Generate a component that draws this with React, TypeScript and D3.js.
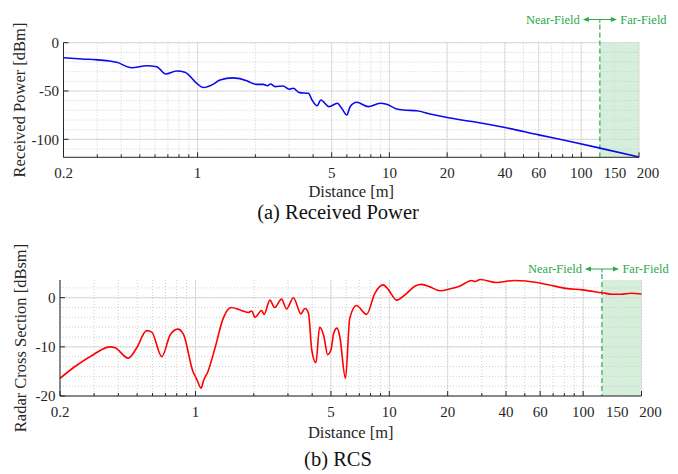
import React, { useEffect, useRef } from 'react';
import * as d3 from 'd3';

// received power vs distance
const powerDist = [0.2, 0.25, 0.3, 0.349, 0.379, 0.453, 0.543, 0.612, 0.682, 0.778, 0.859, 0.989, 1.071, 1.204, 1.308, 1.53, 1.803, 1.876, 2.03, 2.2, 2.31, 2.4, 2.54, 2.79, 3.0, 3.15, 3.4, 3.78, 3.95, 4.2, 4.39, 4.84, 5.35, 5.64, 6.0, 6.24, 6.76, 7.76, 8.94, 9.67, 10.9, 11.8, 13.9, 16.3, 20.0, 27.0, 40.0, 60.0, 90.0, 122, 200];
const powerDbm = [-15.5, -16.8, -17.8, -18.9, -20.3, -25.9, -23.8, -24.8, -32.4, -29.3, -30.6, -42, -46.4, -43.1, -38.6, -36.4, -39.3, -41, -43.1, -43.1, -44.5, -42.8, -45.5, -44.8, -48.2, -47.2, -51.7, -52.4, -59.3, -65.2, -59.3, -66.2, -62.7, -67.9, -74.8, -66.2, -61.7, -66.2, -62.7, -63.8, -68.6, -69.7, -70.4, -73.8, -77.5, -81.6, -87.8, -95.4, -102.8, -108.6, -118.3];

// radar cross section vs distance
const rcsDist = [0.2, 0.239, 0.297, 0.362, 0.385, 0.45, 0.496, 0.56, 0.595, 0.67, 0.74, 0.81, 0.866, 0.97, 1.01, 1.07, 1.10, 1.16, 1.26, 1.39, 1.53, 1.70, 1.87, 1.95, 2.03, 2.19, 2.26, 2.42, 2.56, 2.78, 2.95, 3.2, 3.5, 3.67, 3.83, 3.98, 4.18, 4.37, 4.58, 4.81, 5.0, 5.17, 5.38, 5.55, 5.94, 6.25, 6.77, 7.63, 8.42, 9.3, 9.9, 10.9, 12.3, 13.6, 14.7, 16.2, 18.3, 20.6, 23.2, 26.6, 27.6, 29.5, 35.6, 44.2, 50.6, 66.8, 81.4, 98.9, 125.6, 142, 157, 177, 200];
const rcsDbsm = [-16.4, -14, -11.6, -10, -10.2, -12.3, -10.3, -6.7, -7, -12, -7.6, -6.4, -7.4, -15, -16.4, -18.4, -16.9, -15, -10.3, -4.2, -2, -2.5, -3, -2.7, -4, -2.6, -3.4, -0.5, -2, -0.3, -2.3, 0, -3.3, -2.2, -3.2, -10.6, -13.2, -6, -7.6, -11.6, -10.6, -7.2, -6.2, -7.9, -16.4, -4.2, -1.6, -3.4, 0.9, 2.6, 1.6, -0.5, 0.9, 2.4, 2.7, 2.2, 1.4, 1.8, 2.4, 3.5, 3.3, 3.7, 3.1, 3.5, 3.4, 2.6, 1.9, 1.6, 1.0, 0.7, 0.7, 0.9, 0.75];

const distTicks = [0.2, 1, 5, 10, 20, 40, 60, 100, 150, 200];
const powerTicks = [0, -50, -100];
const rcsTicks = [0, -10, -20];
const fieldBoundary = 125;

const FONT = '"Liberation Serif", "Times New Roman", serif';
const GREEN = '#2aa84a';

function drawPanel(svg, o) {
  const x = d3.scaleLog().domain([0.2, 200]).range([o.left, o.right]);
  const y = d3.scaleLinear().domain(o.yDomain).range([o.bottom, o.top]);
  const g = svg.append('g');
  const xb = x(fieldBoundary);

  // far-field shading
  g.append('rect')
    .attr('x', xb).attr('y', o.top)
    .attr('width', o.right - xb).attr('height', o.bottom - o.top)
    .attr('fill', '#d5efda');

  const minorX = x.ticks();
  const minorY = d3.range(Math.ceil(o.yDomain[0] / o.minorStep) * o.minorStep, o.yDomain[1] + 1e-6, o.minorStep);

  // major grid
  g.selectAll('.gxM').data(distTicks).enter().append('line')
    .attr('x1', d => x(d)).attr('x2', d => x(d))
    .attr('y1', o.top).attr('y2', o.bottom)
    .attr('stroke', '#e2e2e2').attr('stroke-width', 1);
  g.selectAll('.gyM').data(o.yTicks).enter().append('line')
    .attr('x1', o.left).attr('x2', o.right)
    .attr('y1', d => y(d)).attr('y2', d => y(d))
    .attr('stroke', '#e2e2e2').attr('stroke-width', 1.2);

  // minor grid (dotted)
  g.selectAll('.gxm').data(minorX).enter().append('line')
    .attr('x1', d => x(d)).attr('x2', d => x(d))
    .attr('y1', o.top).attr('y2', o.bottom)
    .attr('stroke', '#c4c4c4').attr('stroke-width', 0.8).attr('stroke-dasharray', '1,2');
  g.selectAll('.gym').data(minorY).enter().append('line')
    .attr('x1', o.left).attr('x2', o.right)
    .attr('y1', d => y(d)).attr('y2', d => y(d))
    .attr('stroke', '#c4c4c4').attr('stroke-width', 0.8).attr('stroke-dasharray', '1,2');

  // near/far boundary
  g.append('line')
    .attr('x1', xb).attr('x2', xb)
    .attr('y1', o.arrowY + 5).attr('y2', o.bottom)
    .attr('stroke', '#3aae5a').attr('stroke-width', 1.3).attr('stroke-dasharray', '5,3');

  // data line
  const line = d3.line()
    .x(d => x(d[0]))
    .y(d => y(d[1]))
    .curve(d3.curveMonotoneX);
  g.append('path')
    .datum(o.dist.map((d, i) => [d, o.vals[i]]))
    .attr('d', line)
    .attr('fill', 'none')
    .attr('stroke', o.color)
    .attr('stroke-width', 1.6)
    .attr('stroke-linejoin', 'round');

  // axes
  g.append('line').attr('x1', o.left).attr('x2', o.left).attr('y1', o.top).attr('y2', o.bottom)
    .attr('stroke', '#262626').attr('stroke-width', 1);
  g.append('line').attr('x1', o.left).attr('x2', o.right).attr('y1', o.bottom).attr('y2', o.bottom)
    .attr('stroke', '#262626').attr('stroke-width', 1);

  g.selectAll('.tx').data(minorX).enter().append('line')
    .attr('x1', d => x(d)).attr('x2', d => x(d))
    .attr('y1', o.bottom).attr('y2', d => o.bottom - (distTicks.includes(d) ? 5 : 3))
    .attr('stroke', '#262626').attr('stroke-width', 1);
  g.selectAll('.ty').data(o.yTicks).enter().append('line')
    .attr('x1', o.left).attr('x2', o.left + 5)
    .attr('y1', d => y(d)).attr('y2', d => y(d))
    .attr('stroke', '#262626').attr('stroke-width', 1);

  // tick labels
  g.selectAll('.lx').data(distTicks).enter().append('text')
    .attr('x', d => x(d) + (d === 200 ? 9 : 0))
    .attr('y', o.bottom + 20.5)
    .attr('text-anchor', 'middle')
    .attr('font-family', FONT).attr('font-size', 15).attr('fill', '#262626')
    .text(d => String(d));
  g.selectAll('.ly').data(o.yTicks).enter().append('text')
    .attr('x', o.left - 4.5)
    .attr('y', d => y(d))
    .attr('dy', '0.35em')
    .attr('text-anchor', 'end')
    .attr('font-family', FONT).attr('font-size', 15).attr('fill', '#262626')
    .text(d => (d < 0 ? '-' + Math.abs(d) : String(d)));

  // axis labels
  g.append('text')
    .attr('x', (o.left + o.right) / 2).attr('y', o.bottom + o.xLabelGap)
    .attr('text-anchor', 'middle')
    .attr('font-family', FONT).attr('font-size', 16.5).attr('fill', '#262626')
    .text('Distance [m]');
  g.append('text')
    .attr('transform', 'translate(' + o.yLabelX + ',' + (o.top + o.bottom) / 2 + ') rotate(-90)')
    .attr('text-anchor', 'middle')
    .attr('font-family', FONT).attr('font-size', 16.5).attr('fill', '#262626')
    .text(o.yLabel);

  // caption
  g.append('text')
    .attr('x', 338).attr('y', o.captionY)
    .attr('text-anchor', 'middle')
    .attr('font-family', FONT).attr('font-size', 20.5).attr('fill', '#111')
    .text(o.caption);

  // near/far annotation
  const ay = o.arrowY;
  g.append('line').attr('x1', xb - 14).attr('x2', xb + 14).attr('y1', ay).attr('y2', ay)
    .attr('stroke', GREEN).attr('stroke-width', 1);
  g.append('line').attr('x1', xb).attr('x2', xb).attr('y1', ay).attr('y2', ay + 3.5)
    .attr('stroke', GREEN).attr('stroke-width', 1);
  g.append('path')
    .attr('d', 'M' + (xb - 17) + ',' + ay + 'L' + (xb - 11) + ',' + (ay - 2.5) + 'L' + (xb - 11) + ',' + (ay + 2.5) + 'Z')
    .attr('fill', GREEN);
  g.append('path')
    .attr('d', 'M' + (xb + 17) + ',' + ay + 'L' + (xb + 11) + ',' + (ay - 2.5) + 'L' + (xb + 11) + ',' + (ay + 2.5) + 'Z')
    .attr('fill', GREEN);
  g.append('text')
    .attr('x', xb - 20).attr('y', ay).attr('dy', '0.33em')
    .attr('text-anchor', 'end')
    .attr('font-family', FONT).attr('font-size', 12.5).attr('fill', GREEN)
    .text('Near-Field');
  g.append('text')
    .attr('x', xb + 20.5).attr('y', ay).attr('dy', '0.33em')
    .attr('text-anchor', 'start')
    .attr('font-family', FONT).attr('font-size', 12.5).attr('fill', GREEN)
    .text('Far-Field');
}

export default function App() {
  const ref = useRef(null);

  useEffect(() => {
    const svg = d3.select(ref.current);
    svg.selectAll('*').remove();

    drawPanel(svg, {
      left: 63.5, right: 639, top: 42.7, bottom: 157.3,
      yDomain: [-118.6, 0], yTicks: powerTicks, minorStep: 10,
      dist: powerDist, vals: powerDbm, color: '#0a0aee',
      yLabel: 'Received Power [dBm]', yLabelX: 25, xLabelGap: 40,
      caption: '(a) Received Power', captionY: 219, arrowY: 19.5,
    });

    drawPanel(svg, {
      left: 60, right: 641.5, top: 280, bottom: 396,
      yDomain: [-20, 3.6], yTicks: rcsTicks, minorStep: 2,
      dist: rcsDist, vals: rcsDbsm, color: '#ff0000',
      yLabel: 'Radar Cross Section [dBsm]', yLabelX: 26, xLabelGap: 42,
      caption: '(b) RCS', captionY: 466, arrowY: 269,
    });
  }, []);

  return (
    <svg ref={ref} width={678} height={474}
      style={{ position: 'absolute', left: 0, top: 0, background: '#fff' }} />
  );
}
